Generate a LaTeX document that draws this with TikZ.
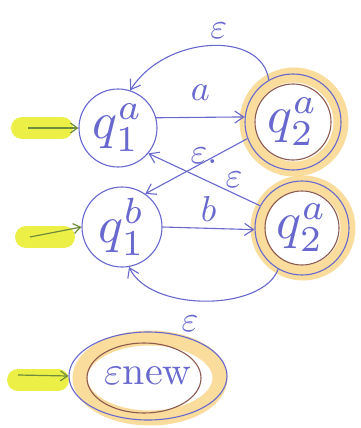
\documentclass[tikz,border=0pt]{standalone}
\usepackage{graphicx}
\usetikzlibrary{arrows.meta,shapes.geometric}
\definecolor{pen}{RGB}{104,104,206}
\definecolor{brownpen}{RGB}{140,90,80}
\definecolor{hlorange}{RGB}{250,214,140}
\definecolor{hlyellow}{RGB}{236,240,70}
\definecolor{greenpen}{RGB}{110,140,60}
\newcommand{\bigtxt}[1]{\scalebox{5.2}{#1}}
\newcommand{\midtxt}[1]{\scalebox{3.6}{#1}}
\begin{document}
\begin{tikzpicture}[x=1pt,y=-1pt,
  state/.style={circle,draw=pen,line width=1.1pt,text=pen,inner sep=0pt},
  edge/.style={draw=pen,line width=1.1pt,-{Straight Barb[length=9pt,width=12pt]}},
  lbl/.style={text=pen,inner sep=0pt},
  hl/.style={draw=hlorange,line width=15pt,opacity=0.85},
  startarrow/.style={draw=greenpen,line width=1.2pt,-{Straight Barb[length=7pt,width=10pt]}}
]
\useasboundingbox (0,0) rectangle (360,428);
\fill[white] (0,0) rectangle (360,428);

% highlighter rings of the accepting states
\draw[hl] (294,122) circle (47);
\draw[hl] (303,228) circle (45);
\draw[hl] (150,378) ellipse (70 and 40);

% yellow marks behind the start arrows
\draw[hlyellow,line width=22pt,line cap=round] (22,128) -- (62,128);
\draw[hlyellow,line width=22pt,line cap=round] (26,237) -- (64,237);
\draw[hlyellow,line width=22pt,line cap=round] (18,380) -- (58,380);

% states
\node[state,minimum size=78pt] (qa1) at (118,128) {\bigtxt{$q^a_1$}};
\node[state,minimum size=96pt] (qa2) at (293,122) {\bigtxt{$q^a_2$}};
\draw[brownpen,line width=1.1pt] (qa2.center) circle (38);
\node[state,minimum size=80pt] (qb1) at (122,227) {\bigtxt{$q^b_1$}};
\node[state,minimum size=94pt] (qb2) at (302,228) {\bigtxt{$q^a_2$}};
\draw[brownpen,line width=1.1pt] (qb2.center) circle (37);
\node[ellipse,draw=pen,line width=1.1pt,minimum width=158pt,minimum height=88pt,text=pen,inner sep=0pt]
  (enew) at (148,376) {\scalebox{4}{$\varepsilon$new}};
\draw[brownpen,line width=1.1pt] (144,378) ellipse (57 and 35);

% start arrows
\coordinate (sa) at (28,128);
\coordinate (sb) at (30,237);
\coordinate (se) at (18,375);
\draw[startarrow] (sa) -- (qa1.west);
\draw[startarrow] (sb) -- (qb1.west);
\draw[startarrow] (se) -- (enew.west);

% transitions
\draw[edge] (qa1.15) -- node[lbl,above=16pt] {\midtxt{$a$}} (qa2.174);
\draw[edge] (qb1.0) -- node[lbl,above=6pt] {\midtxt{$b$}} (qb2.182);
\draw[edge] (qa2.120) .. controls (262,30) and (165,35) .. node[lbl,above=6pt,pos=0.45] {\midtxt{$\varepsilon$}} (qa1.72);
\draw[edge] (qb2.240) .. controls (262,312) and (150,312) .. (qb1.280);
\node[lbl] (epsb) at (190,324) {\midtxt{$\varepsilon$}};
\draw[edge] (qa2.200) -- (qb1.55);
\draw[edge] (qb2.152) -- (qa1.-40);
\node[lbl] (epsx) at (204,156) {\midtxt{$\varepsilon.$}};
\node[lbl] (epsy) at (234,180) {\midtxt{$\varepsilon$}};
\end{tikzpicture}
\end{document}
